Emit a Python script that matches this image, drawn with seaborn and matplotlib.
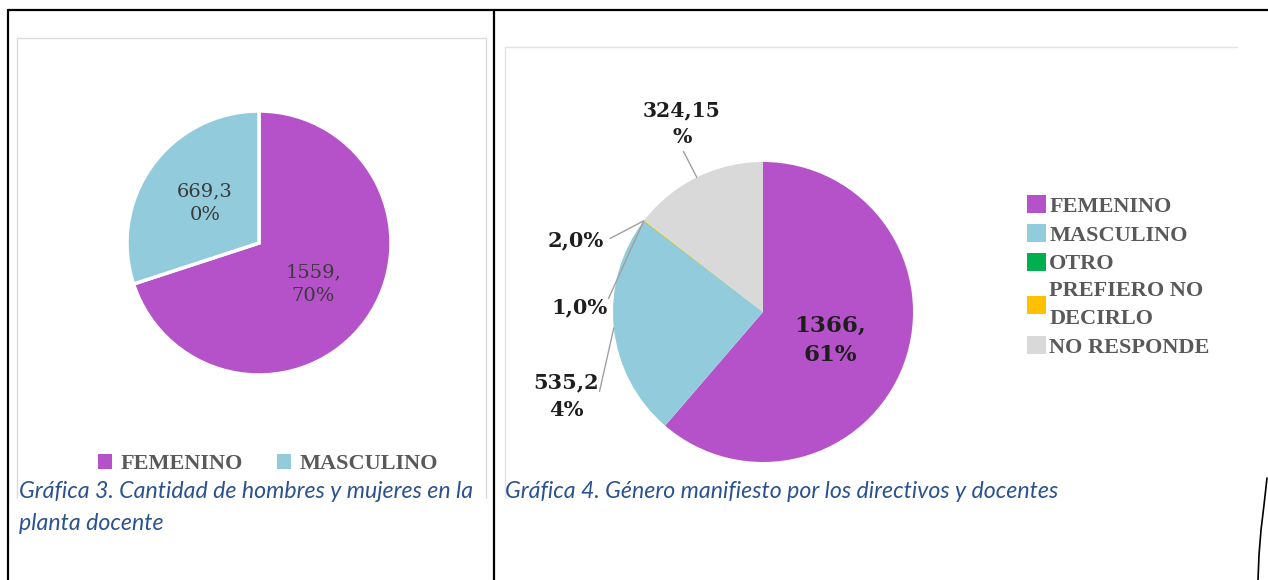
import matplotlib
matplotlib.use("Agg")
import matplotlib.pyplot as plt
import seaborn as sns
import numpy as np
from matplotlib.patches import Patch
from matplotlib.lines import Line2D
from matplotlib.font_manager import FontProperties

# ---------------- data ----------------
g3_categories = ["FEMENINO", "MASCULINO"]
g3_values = [1559, 669]
g3_percent = [70, 30]
g3_wrap = [5, 5]

g4_categories = ["FEMENINO", "MASCULINO", "OTRO", "PREFIERO NO\nDECIRLO", "NO RESPONDE"]
g4_values = [1366, 535, 1, 2, 324]
g4_percent = [61, 24, 0, 0, 15]
g4_wrap = [5, 5, 0, 0, 6]

caption3 = "Gráfica 3. Cantidad de hombres y mujeres en la\nplanta docente"
caption4 = "Gráfica 4. Género manifiesto por los directivos y docentes"

# ---------------- style ----------------
sns.set_theme(style="white")
plt.rcParams["font.family"] = ["DejaVu Serif", "DejaVu Sans"]
colors3 = sns.color_palette(["#B552C9", "#92CCDC"])
colors4 = sns.color_palette(["#B552C9", "#92CCDC", "#00B050", "#FFC000", "#D9D9D9"])

W, H = 1268, 580
fig = plt.figure(figsize=(W / 100, H / 100), dpi=100)
fig.patch.set_facecolor("white")


def fx(x):
    return x / W


def fy(y):
    return 1 - y / H


def label_text(v, p, wrap):
    s = f"{v},{p}%"
    if wrap and wrap < len(s):
        s = s[:wrap] + "\n" + s[wrap:]
    return s


def fline(xs, ys, **kw):
    fig.add_artist(Line2D([fx(x) for x in xs], [fy(y) for y in ys],
                          transform=fig.transFigure, **kw))


# ---------------- table borders ----------------
fline([8, W], [10, 10], color="black", lw=1.6)
fline([8, 8], [10, H], color="black", lw=1.6)
fline([494, 494], [10, H], color="black", lw=1.6)
fline([1267, 1264, 1261, 1259, 1258], [478, 505, 530, 555, 580], color="black", lw=1.2)

# chart frames
fline([17, 486, 486], [38, 38, 498], color="#DADADA", lw=1.0)
fline([17, 17], [38, 498], color="#DADADA", lw=1.0)
fline([505, 1237], [47, 47], color="#E2E2E2", lw=1.0)
fline([505, 505], [47, 498], color="#E2E2E2", lw=1.0)

legend_font = FontProperties(family="Liberation Serif", weight="bold", size=16)

# ---------------- Gráfica 3 ----------------
lim = 1.05
c3x, c3y, r3 = 259, 243, 132
ax1 = fig.add_axes([fx(c3x - r3 * lim), fy(c3y + r3 * lim), 2 * r3 * lim / W, 2 * r3 * lim / H])
wedges3, _ = ax1.pie(g3_values, colors=colors3, startangle=90, counterclock=False,
                     radius=1, wedgeprops=dict(edgecolor="white", linewidth=2.5))
ax1.set_xlim(-lim, lim)
ax1.set_ylim(-lim, lim)
ax1.set_aspect("equal")
ax1.axis("off")

g3_label_pos = [(0.41, -0.31), (-0.41, 0.30)]
for v, p, w, pos in zip(g3_values, g3_percent, g3_wrap, g3_label_pos):
    ax1.text(pos[0], pos[1], label_text(v, p, w), ha="center", va="center",
             fontsize=14, color="#3A3A3A", linespacing=1.4)

leg1 = fig.legend(handles=[Patch(facecolor=c, edgecolor="none") for c in colors3],
                  labels=g3_categories, loc="center", bbox_to_anchor=(fx(268), fy(464)),
                  ncol=2, frameon=False, prop=legend_font,
                  handlelength=0.65, handleheight=0.65, handletextpad=0.4,
                  columnspacing=1.5, labelcolor="#595959")

cap_family = ["Lato", "DejaVu Sans"]
fig.text(fx(19), fy(481), caption3, ha="left", va="top", fontsize=16.7,
         family=cap_family, style="italic", color="#2B5290", linespacing=1.62)

# ---------------- Gráfica 4 ----------------
c4x, c4y, r4 = 763, 312, 150
ax2 = fig.add_axes([fx(c4x - r4 * lim), fy(c4y + r4 * lim), 2 * r4 * lim / W, 2 * r4 * lim / H])
wedges4, _ = ax2.pie(g4_values, colors=colors4, startangle=90, counterclock=False,
                     radius=1, wedgeprops=dict(linewidth=0))
ax2.set_xlim(-lim, lim)
ax2.set_ylim(-lim, lim)
ax2.set_aspect("equal")
ax2.axis("off")

# label positions (data units of pie axes) and leader start points
g4_label_pos = [(0.45, -0.19), (-1.31, -0.56), (-1.22, 0.03), (-1.25, 0.48), (-0.54, 1.255)]
g4_leader = [None, (-1.09, -0.53), (-1.03, 0.09), (-1.02, 0.49), (-0.53, 1.07)]
g4_sizes = [16.5, 15, 15, 15, 14.7]
for wdg, v, p, w, pos, ld, fs in zip(wedges4, g4_values, g4_percent, g4_wrap,
                                     g4_label_pos, g4_leader, g4_sizes):
    ax2.text(pos[0], pos[1], label_text(v, p, w), ha="center", va="center",
             fontsize=fs, fontweight="bold", color="#1E1E1E", linespacing=1.45)
    if ld is not None:
        ang = np.deg2rad((wdg.theta1 + wdg.theta2) / 2)
        ex, ey = np.cos(ang), np.sin(ang)
        ax2.plot([ld[0], ex], [ld[1], ey], color="#A0A0A0", lw=1.0, clip_on=False)

leg2 = fig.legend(handles=[Patch(facecolor=c, edgecolor="none") for c in colors4],
                  labels=g4_categories, loc="upper left", bbox_to_anchor=(fx(1027), fy(195)),
                  ncol=1, frameon=False, prop=legend_font,
                  handlelength=0.85, handleheight=0.9, handletextpad=0.15,
                  labelspacing=0.31, labelcolor="#595959", borderpad=0, borderaxespad=0)
for t in leg2.get_texts():
    t.set_linespacing(1.5)

fig.text(fx(505), fy(481), caption4, ha="left", va="top", fontsize=16.7,
         family=cap_family, style="italic", color="#2B5290")

fig.savefig("out.png", dpi=100, facecolor="white")
